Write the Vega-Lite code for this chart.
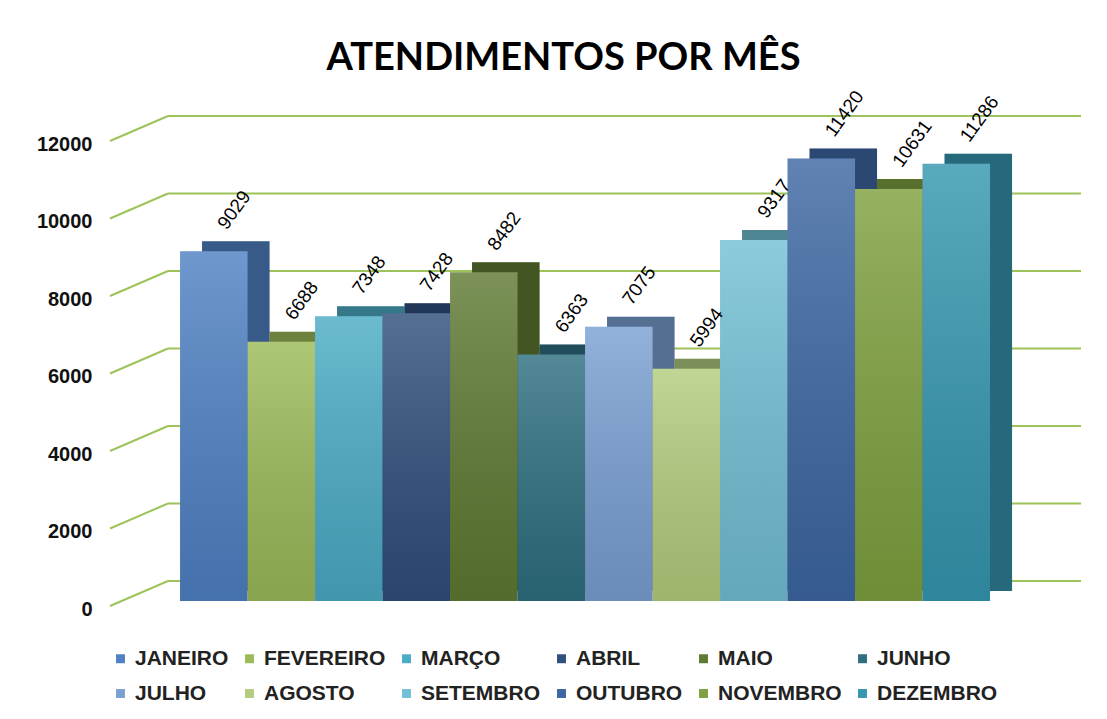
{
  "$schema": "https://vega.github.io/schema/vega-lite/v6.json",
  "autosize": {"type": "none"},
  "width": 913,
  "height": 465,
  "padding": {"left": 168, "top": 136, "right": 26, "bottom": 118},
  "background": "white",
  "config": {"view": {"stroke": null}},
  "title": {
    "text": "ATENDIMENTOS POR MÊS",
    "font": "Lato",
    "fontSize": 38,
    "fontWeight": "bold",
    "color": "#000000",
    "anchor": "middle",
    "dx": -61,
    "offset": 10
  },
  "datasets": {
    "meses": [
      {"mes": "JANEIRO", "atendimentos": 9029},
      {"mes": "FEVEREIRO", "atendimentos": 6688},
      {"mes": "MARÇO", "atendimentos": 7348},
      {"mes": "ABRIL", "atendimentos": 7428},
      {"mes": "MAIO", "atendimentos": 8482},
      {"mes": "JUNHO", "atendimentos": 6363},
      {"mes": "JULHO", "atendimentos": 7075},
      {"mes": "AGOSTO", "atendimentos": 5994},
      {"mes": "SETEMBRO", "atendimentos": 9317},
      {"mes": "OUTUBRO", "atendimentos": 11420},
      {"mes": "NOVEMBRO", "atendimentos": 10631},
      {"mes": "DEZEMBRO", "atendimentos": 11286}
    ],
    "grade": [
      {"v": 0}, {"v": 2000}, {"v": 4000}, {"v": 6000}, {"v": 8000}, {"v": 10000}, {"v": 12000}
    ]
  },
  "layer": [
    {
      "data": {"name": "grade"},
      "mark": {"type": "rule", "color": "#9DC35A", "strokeWidth": 2, "yOffset": 5, "y2Offset": -20},
      "encoding": {
        "x": {"value": -58},
        "x2": {"value": 0},
        "y": {"field": "v", "type": "quantitative", "scale": {"domain": [0, 12000], "nice": false},
          "axis": {"values": [0, 2000, 4000, 6000, 8000, 10000, 12000], "format": "d", "domain": false, "ticks": false, "grid": false,
            "labelFont": "Liberation Sans", "labelFontWeight": "bold", "labelFontSize": 20, "labelColor": "#111111",
            "labelPadding": 76, "labelOffset": 8, "title": null}},
        "y2": {"field": "v"}
      }
    },
    {
      "data": {"name": "grade"},
      "mark": {"type": "rule", "color": "#9DC35A", "strokeWidth": 2, "yOffset": -20},
      "encoding": {
        "y": {"field": "v", "type": "quantitative"}
      }
    },
    {
      "data": {"name": "meses"},
      "mark": {"type": "bar", "xOffset": 22, "yOffset": -10, "y2Offset": -10},
      "encoding": {
        "x": {"field": "mes", "type": "nominal", "sort": null,
          "scale": {"paddingInner": 0, "paddingOuter": 0.763, "align": 0.117}, "axis": null},
        "y": {"field": "atendimentos", "type": "quantitative"},
        "color": {"field": "mes", "type": "nominal", "sort": null,
          "scale": {
            "domain": ["JANEIRO", "FEVEREIRO", "MARÇO", "ABRIL", "MAIO", "JUNHO", "JULHO", "AGOSTO", "SETEMBRO", "OUTUBRO", "NOVEMBRO", "DEZEMBRO"],
            "range": ["#4F81C4", "#9BBB59", "#4BACC6", "#2F4F7D", "#5F7A33", "#2E6F80", "#7AA0D3", "#B3CD7E", "#72C0D5", "#3D67A3", "#7FA13F", "#3597B0"]
          },
          "legend": {
            "orient": "none", "legendX": -58, "legendY": 512, "direction": "horizontal", "columns": 6,
            "title": null, "symbolType": "square", "symbolSize": 80, "symbolStrokeWidth": 0,
            "labelFont": "Liberation Sans", "labelFontWeight": "bold", "labelFontSize": 21, "labelColor": "#222222",
            "columnPadding": 10, "rowPadding": 13, "symbolOffset": 0, "labelOffset": 4
          }
        }
      }
    },
    {
      "data": {"name": "meses"},
      "mark": {"type": "bar", "xOffset": 22, "yOffset": -10, "y2Offset": -10, "color": "#000000", "opacity": 0.3},
      "encoding": {
        "x": {"field": "mes", "type": "nominal", "sort": null},
        "y": {"field": "atendimentos", "type": "quantitative"}
      }
    },
    {
      "data": {"name": "meses"},
      "mark": {"type": "bar"},
      "encoding": {
        "x": {"field": "mes", "type": "nominal", "sort": null},
        "y": {"field": "atendimentos", "type": "quantitative"},
        "color": {"field": "mes", "type": "nominal", "sort": null}
      }
    },
    {
      "data": {"name": "meses"},
      "mark": {"type": "bar",
        "color": {"gradient": "linear", "x1": 0, "y1": 0, "x2": 0, "y2": 1,
          "stops": [{"offset": 0, "color": "rgba(255,255,255,0.18)"}, {"offset": 1, "color": "rgba(0,0,0,0.12)"}]}},
      "encoding": {
        "x": {"field": "mes", "type": "nominal", "sort": null},
        "y": {"field": "atendimentos", "type": "quantitative"}
      }
    },
    {
      "data": {"name": "meses"},
      "mark": {"type": "text", "angle": -54, "align": "left", "baseline": "middle", "xOffset": 8, "yOffset": -24,
        "font": "Liberation Sans", "fontSize": 19, "color": "#000000"},
      "encoding": {
        "x": {"field": "mes", "type": "nominal", "sort": null},
        "y": {"field": "atendimentos", "type": "quantitative"},
        "text": {"field": "atendimentos", "type": "quantitative", "format": "d"}
      }
    }
  ]
}
